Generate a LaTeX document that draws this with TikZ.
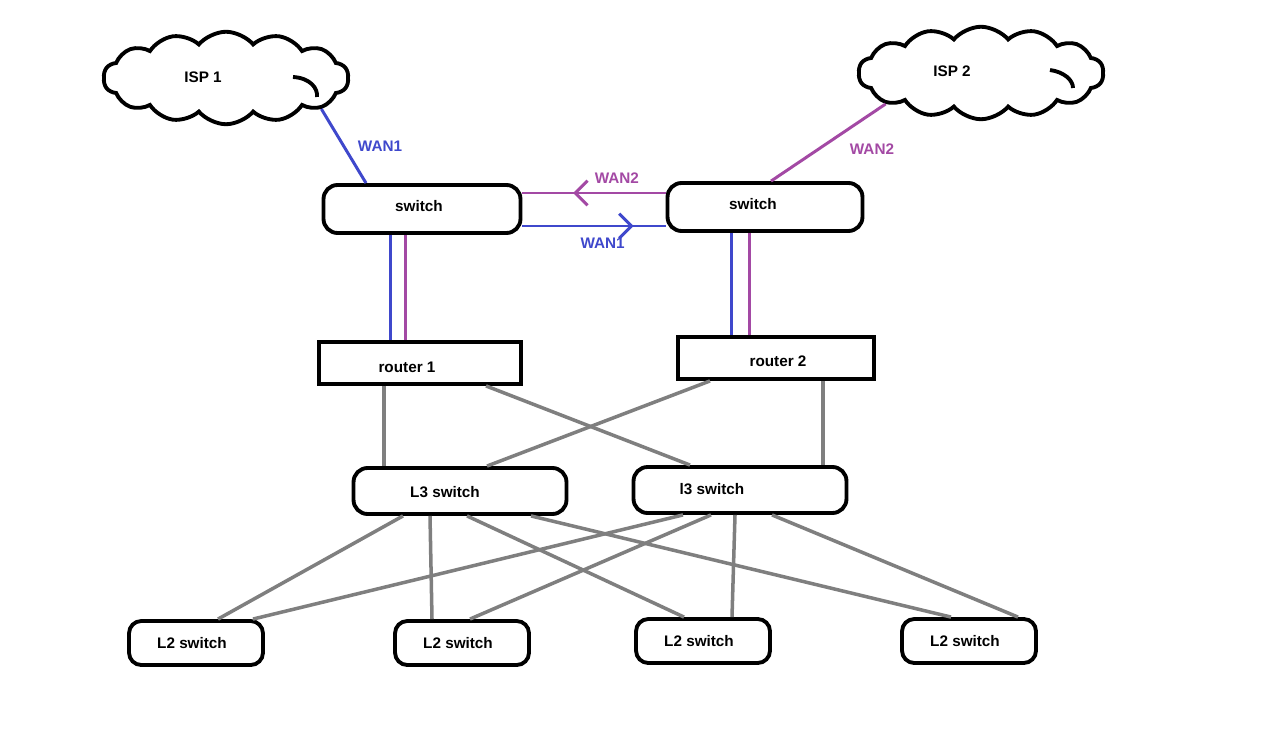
\documentclass[tikz,border=0pt]{standalone}
\usepackage{fontspec}
\setmainfont{Liberation Sans}
\usetikzlibrary{shapes.symbols, arrows.meta, positioning, decorations.markings}
\definecolor{wanblue}{RGB}{63,72,204}
\definecolor{wanpurple}{RGB}{163,73,164}
\definecolor{langray}{RGB}{127,127,127}

\tikzset{
  boxlbl/.style={font=\bfseries\fontsize{8.7}{10}\selectfont, inner sep=1pt},
  swbox/.style={draw, line width=2.2pt, rounded corners=8pt, inner sep=0pt},
  rtrbox/.style={draw, line width=2.2pt, inner sep=0pt},
  isp/.style={draw, cloud, cloud puffs=14, cloud puff arc=100, aspect=2.6, line width=2.2pt,
              inner sep=0pt, minimum width=4.9cm, minimum height=1.85cm},
  wan1/.style={draw=wanblue, line width=1.7pt},
  wan2/.style={draw=wanpurple, line width=1.7pt},
  lan/.style={draw=langray, line width=2pt},
  midarrow/.style={postaction={decorate}, decoration={markings,
      mark=at position #1 with {\arrow{Straight Barb[length=7pt,width=14pt]}}}},
}

\begin{document}
\begin{tikzpicture}[x=0.02cm, y=-0.02cm]
  \useasboundingbox (0,0) rectangle (1280,736);

  %% ISP clouds
  \node[isp] (isp1) at (226,78) {};
  \node[boxlbl] (isp1-t) at (203,77) {ISP 1};
  \node[isp] (isp2) at (981,73) {};
  \node[boxlbl] (isp2-t) at (952,71) {ISP 2};
  \draw[line width=2.2pt] (293,77) .. controls (310,78) and (318,88) .. (317,97);
  \draw[line width=2.2pt] (1050,70) .. controls (1064,72) and (1073,80) .. (1073,88);

  %% edge switches
  \node[swbox, minimum width=3.94cm, minimum height=0.96cm] (sw1) at (422,209) {};
  \node[boxlbl] (sw1-t) at (419,206) {switch};
  \node[swbox, minimum width=3.9cm, minimum height=0.96cm] (sw2) at (765,207) {};
  \node[boxlbl] (sw2-t) at (753,204) {switch};

  %% routers
  \node[rtrbox, minimum width=4.04cm, minimum height=0.84cm] (r1) at (420,363) {};
  \node[boxlbl] (r1-t) at (407,367) {router 1};
  \node[rtrbox, minimum width=3.92cm, minimum height=0.84cm] (r2) at (776,358) {};
  \node[boxlbl] (r2-t) at (778,361) {router 2};

  %% L3 switches
  \node[swbox, minimum width=4.26cm, minimum height=0.92cm] (l3left) at (460,491) {};
  \node[boxlbl] (l3left-t) at (445,492) {L3 switch};
  \node[swbox, minimum width=4.26cm, minimum height=0.92cm] (l3right) at (740,490) {};
  \node[boxlbl] (l3right-t) at (712,489) {l3 switch};

  %% L2 switches
  \foreach \n/\x/\y in {l2a/196/643, l2b/462/643, l2c/703/641, l2d/969/641}{
    \node[swbox, rounded corners=7pt, minimum width=2.68cm, minimum height=0.88cm] (\n) at (\x,\y) {};
    \node[boxlbl] (\n-t) at (\x-4,\y) {L2 switch};
  }

  %% WAN links
  \draw[wan1] (sw1.north -| 366,0) -- (isp1.-18)
    node[boxlbl, text=wanblue, pos=0.5, right=0.22cm] {WAN1};
  \draw[wan2] (sw2.north -| 771,0) -- (isp2.-162)
    node[boxlbl, text=wanpurple, pos=0.42, right=0.55cm] {WAN2};
  \draw[wan2, midarrow=0.646] (sw2.west |- 0,193) -- (sw1.east |- 0,193)
    node[boxlbl, text=wanpurple, pos=0.34, above=0.12cm] {WAN2};
  \draw[wan1, midarrow=0.776] (sw1.east |- 0,226) -- (sw2.west |- 0,226)
    node[boxlbl, text=wanblue, pos=0.56, below=0.18cm] {WAN1};

  \draw[wan1] (sw1.south -| 390,0) -- (r1.north -| 390,0);
  \draw[wan2] (sw1.south -| 405,0) -- (r1.north -| 405,0);
  \draw[wan1] (sw2.south -| 731,0) -- (r2.north -| 731,0);
  \draw[wan2] (sw2.south -| 749,0) -- (r2.north -| 749,0);

  %% LAN links
  \foreach \a/\src/\b/\dst in {384/r1/384/l3left, 486/r1/690/l3right,
                               710/r2/487/l3left, 823/r2/823/l3right,
                               403/l3left/218/l2a, 430/l3left/432/l2b,
                               467/l3left/684/l2c, 531/l3left/951/l2d,
                               683/l3right/253/l2a, 711/l3right/470/l2b,
                               735/l3right/732/l2c, 772/l3right/1018/l2d}
    \draw[lan] (\src.south -| \a,0) -- (\dst.north -| \b,0);
\end{tikzpicture}
\end{document}
